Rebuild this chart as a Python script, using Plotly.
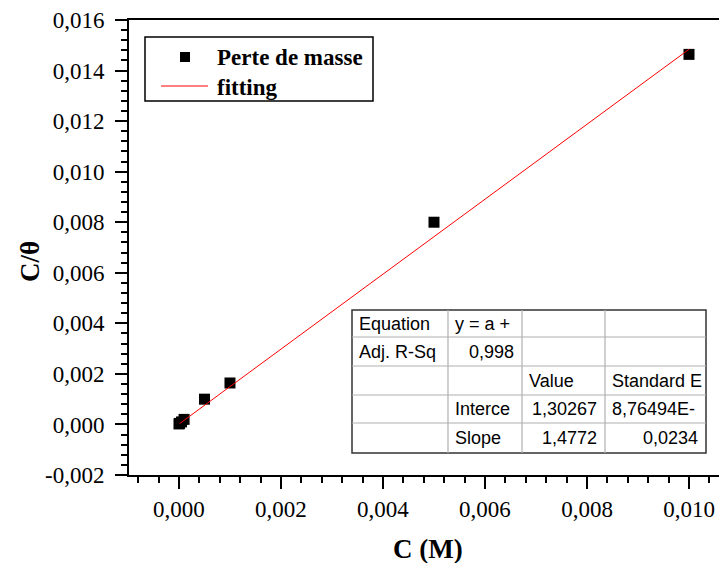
import plotly.graph_objects as go

# ---- data ----
conc = [0.0, 0.00001, 0.00005, 0.0001, 0.0005, 0.001, 0.005, 0.01]
c_theta = [0.00002, 0.00004, 0.0001, 0.0002, 0.001, 0.00164, 0.0080, 0.01464]
fit_x = [0.00001, 0.01]
fit_y = [0.00003, 0.01484]

x_ticks = [0.000, 0.002, 0.004, 0.006, 0.008, 0.010]
x_ticktext = ["0,000", "0,002", "0,004", "0,006", "0,008", "0,010"]
y_ticks = [-0.002, 0.000, 0.002, 0.004, 0.006, 0.008, 0.010, 0.012, 0.014, 0.016]
y_ticktext = ["-0,002", "0,000", "0,002", "0,004", "0,006", "0,008", "0,010", "0,012", "0,014", "0,016"]

legend_names = ["Perte de masse", "fitting"]

table_rows = [
    ["Equation", "y = a +", "", ""],
    ["Adj. R-Sq", "0,998", "", ""],
    ["", "", "Value", "Standard E"],
    ["", "Interce", "1,30267", "8,76494E-"],
    ["", "Slope", "1,4772", "0,0234"],
]
# alignment per cell: l / r
table_align = [
    ["l", "l", "l", "l"],
    ["l", "r", "l", "l"],
    ["l", "l", "l", "l"],
    ["l", "l", "r", "l"],
    ["l", "l", "r", "r"],
]

# ---- layout geometry (pixels, in the screenshot's frame) ----
OFF = 8  # page body margin
W, H = 727 - OFF, 563 - OFF
L, R, T, B = 129, 727, 20, 475
serif = "Liberation Serif, Times New Roman, serif"
sans = "Liberation Sans, Arial, sans-serif"


def px(x):
    return (x - L) / (R - L)


def py(y):
    return (B - y) / (B - T)


fig = go.Figure()
fig.add_trace(go.Scatter(
    x=conc, y=c_theta, mode="markers", name=legend_names[0],
    marker=dict(symbol="square", size=11, color="black", line=dict(width=0)),
))
fig.add_trace(go.Scatter(
    x=fit_x, y=fit_y, mode="lines", name=legend_names[1],
    line=dict(color="#ff0000", width=1),
))

axis_common = dict(
    showgrid=False, zeroline=False, showline=True, linecolor="black", linewidth=2,
    ticks="outside", ticklen=12, tickwidth=1.5, tickcolor="black",
    tickfont=dict(family=serif, size=23, color="black"),
    automargin=False, ticklabeloverflow="allow",
)

fig.update_xaxes(
    range=[-0.00098, 0.010745], tickvals=x_ticks, ticktext=x_ticktext, mirror=True,
    minor=dict(ticks="outside", ticklen=6, dtick=0.0004, tickwidth=1.5, tickcolor="black"),
    ticklabelstandoff=0,
    **axis_common,
)
fig.update_yaxes(
    range=[-0.002, 0.016], tickvals=y_ticks, ticktext=y_ticktext,
    minor=dict(ticks="outside", ticklen=6, dtick=0.0004, tickwidth=1.5, tickcolor="black"),
    ticklabelstandoff=6,
    **axis_common,
)

shapes = []
annotations = []

# axis titles
annotations.append(dict(x=px(428), y=py(549), xref="paper", yref="paper", text="<b>C (M)</b>",
                        xanchor="center", yanchor="middle",
                        showarrow=False, font=dict(family=serif, size=27, color="black")))
annotations.append(dict(x=px(30), y=py(262), xref="paper", yref="paper", text="<b>C/θ</b>",
                        xanchor="center", yanchor="middle",
                        textangle=-90, showarrow=False, font=dict(family=serif, size=27, color="black")))

# legend box (drawn by hand to match the original layout)
shapes.append(dict(type="rect", xref="paper", yref="paper", x0=px(145), x1=px(373),
                   y0=py(101), y1=py(37), fillcolor="white",
                   line=dict(color="black", width=1.5), layer="above"))
shapes.append(dict(type="rect", xref="paper", yref="paper", x0=px(180), x1=px(190),
                   y0=py(62), y1=py(52), fillcolor="black", line=dict(width=0), layer="above"))
shapes.append(dict(type="line", xref="paper", yref="paper", x0=px(161), x1=px(208),
                   y0=py(86), y1=py(86), line=dict(color="#ff0000", width=1), layer="above"))
for name, yc in zip(legend_names, [57, 87]):
    annotations.append(dict(x=px(215), y=py(yc), xref="paper", yref="paper",
                            text="<b>" + name + "</b>", xanchor="left", yanchor="middle",
                            showarrow=False, font=dict(family=serif, size=23, color="black")))

# results table
col_x = [352, 448, 522, 605, 706]
row_y = [310, 337, 366, 395, 423, 453]
shapes.append(dict(type="rect", xref="paper", yref="paper",
                   x0=px(col_x[0]), x1=px(col_x[-1]), y0=py(row_y[-1]), y1=py(row_y[0]),
                   fillcolor="white", line=dict(color="#333333", width=1.5), layer="above"))
for cx in col_x[1:-1]:
    shapes.append(dict(type="line", xref="paper", yref="paper", x0=px(cx), x1=px(cx),
                       y0=py(row_y[-1]), y1=py(row_y[0]), line=dict(color="#b0b0b0", width=1.2),
                       layer="above"))
for ry in row_y[1:-1]:
    shapes.append(dict(type="line", xref="paper", yref="paper", x0=px(col_x[0]), x1=px(col_x[-1]),
                       y0=py(ry), y1=py(ry), line=dict(color="#b0b0b0", width=1.2), layer="above"))

for i, row in enumerate(table_rows):
    yc = (row_y[i] + row_y[i + 1]) / 2
    for j, txt in enumerate(row):
        if not txt:
            continue
        a = table_align[i][j]
        if a == "l":
            xp, anchor = col_x[j] + 5, "left"
        else:
            xp, anchor = col_x[j + 1] - 6, "right"
        annotations.append(dict(x=px(xp), y=py(yc), xref="paper", yref="paper", text=txt,
                                xanchor=anchor, yanchor="middle", showarrow=False,
                                font=dict(family=sans, size=18, color="black")))

fig.update_layout(
    width=W, height=H,
    margin=dict(l=L - OFF, r=W - (R - OFF), t=T - OFF, b=H - (B - OFF), pad=0, autoexpand=False),
    paper_bgcolor="white", plot_bgcolor="white",
    showlegend=False,
    shapes=shapes, annotations=annotations,
)

fig.write_html("out.html")
